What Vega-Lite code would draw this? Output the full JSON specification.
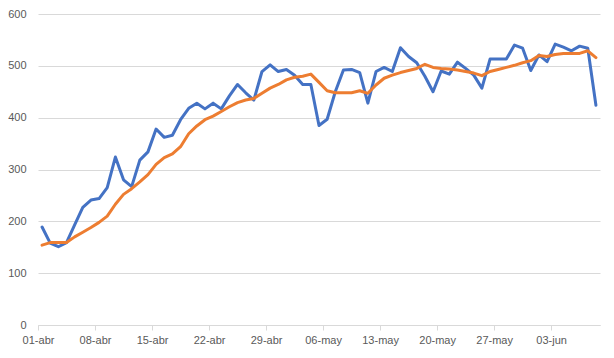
{
  "$schema": "https://vega.github.io/schema/vega-lite/v6.json",
  "width": 562,
  "height": 311,
  "autosize": {"type": "none"},
  "padding": {"left": 38, "top": 14, "right": 14, "bottom": 33},
  "background": "white",
  "config": {
    "view": {"stroke": null},
    "axis": {"labelFont": "Liberation Sans", "labelFontSize": 11, "labelColor": "#595959"}
  },
  "data": {
    "values": [
      {"fecha": "2020-04-01", "diario": 189, "media": 154},
      {"fecha": "2020-04-02", "diario": 158, "media": 159},
      {"fecha": "2020-04-03", "diario": 151, "media": 159},
      {"fecha": "2020-04-04", "diario": 159, "media": 159},
      {"fecha": "2020-04-05", "diario": 193, "media": 170},
      {"fecha": "2020-04-06", "diario": 227, "media": 179},
      {"fecha": "2020-04-07", "diario": 241, "media": 188},
      {"fecha": "2020-04-08", "diario": 244, "media": 198},
      {"fecha": "2020-04-09", "diario": 265, "media": 210},
      {"fecha": "2020-04-10", "diario": 324, "media": 233},
      {"fecha": "2020-04-11", "diario": 280, "media": 252},
      {"fecha": "2020-04-12", "diario": 267, "media": 263},
      {"fecha": "2020-04-13", "diario": 318, "media": 276},
      {"fecha": "2020-04-14", "diario": 334, "media": 290},
      {"fecha": "2020-04-15", "diario": 378, "media": 310},
      {"fecha": "2020-04-16", "diario": 362, "media": 323},
      {"fecha": "2020-04-17", "diario": 366, "media": 330},
      {"fecha": "2020-04-18", "diario": 396, "media": 344},
      {"fecha": "2020-04-19", "diario": 418, "media": 369},
      {"fecha": "2020-04-20", "diario": 428, "media": 384},
      {"fecha": "2020-04-21", "diario": 417, "media": 396},
      {"fecha": "2020-04-22", "diario": 428, "media": 403},
      {"fecha": "2020-04-23", "diario": 417, "media": 412},
      {"fecha": "2020-04-24", "diario": 442, "media": 421},
      {"fecha": "2020-04-25", "diario": 464, "media": 429},
      {"fecha": "2020-04-26", "diario": 448, "media": 434},
      {"fecha": "2020-04-27", "diario": 434, "media": 437},
      {"fecha": "2020-04-28", "diario": 489, "media": 447},
      {"fecha": "2020-04-29", "diario": 502, "media": 457},
      {"fecha": "2020-04-30", "diario": 489, "media": 464},
      {"fecha": "2020-05-01", "diario": 493, "media": 473},
      {"fecha": "2020-05-02", "diario": 482, "media": 478},
      {"fecha": "2020-05-03", "diario": 464, "media": 480},
      {"fecha": "2020-05-04", "diario": 464, "media": 484},
      {"fecha": "2020-05-05", "diario": 385, "media": 468},
      {"fecha": "2020-05-06", "diario": 397, "media": 452},
      {"fecha": "2020-05-07", "diario": 450, "media": 448},
      {"fecha": "2020-05-08", "diario": 492, "media": 448},
      {"fecha": "2020-05-09", "diario": 493, "media": 448},
      {"fecha": "2020-05-10", "diario": 487, "media": 452},
      {"fecha": "2020-05-11", "diario": 428, "media": 447},
      {"fecha": "2020-05-12", "diario": 489, "media": 463},
      {"fecha": "2020-05-13", "diario": 497, "media": 476},
      {"fecha": "2020-05-14", "diario": 489, "media": 482},
      {"fecha": "2020-05-15", "diario": 535, "media": 487},
      {"fecha": "2020-05-16", "diario": 518, "media": 491},
      {"fecha": "2020-05-17", "diario": 506, "media": 495},
      {"fecha": "2020-05-18", "diario": 480, "media": 503},
      {"fecha": "2020-05-19", "diario": 450, "media": 497},
      {"fecha": "2020-05-20", "diario": 490, "media": 495},
      {"fecha": "2020-05-21", "diario": 484, "media": 494},
      {"fecha": "2020-05-22", "diario": 507, "media": 492},
      {"fecha": "2020-05-23", "diario": 495, "media": 489},
      {"fecha": "2020-05-24", "diario": 482, "media": 486},
      {"fecha": "2020-05-25", "diario": 457, "media": 481},
      {"fecha": "2020-05-26", "diario": 513, "media": 489},
      {"fecha": "2020-05-27", "diario": 513, "media": 493},
      {"fecha": "2020-05-28", "diario": 513, "media": 497},
      {"fecha": "2020-05-29", "diario": 540, "media": 501},
      {"fecha": "2020-05-30", "diario": 534, "media": 506},
      {"fecha": "2020-05-31", "diario": 491, "media": 510},
      {"fecha": "2020-06-01", "diario": 521, "media": 520},
      {"fecha": "2020-06-02", "diario": 508, "media": 518},
      {"fecha": "2020-06-03", "diario": 542, "media": 522},
      {"fecha": "2020-06-04", "diario": 536, "media": 524},
      {"fecha": "2020-06-05", "diario": 529, "media": 524},
      {"fecha": "2020-06-06", "diario": 538, "media": 524},
      {"fecha": "2020-06-07", "diario": 534, "media": 529},
      {"fecha": "2020-06-08", "diario": 424, "media": 516}
    ]
  },
  "transform": [{"fold": ["diario", "media"], "as": ["serie", "valor"]}],
  "mark": {"type": "line", "strokeWidth": 3, "strokeJoin": "round", "strokeCap": "round"},
  "encoding": {
    "x": {
      "field": "fecha",
      "type": "temporal",
      "timeUnit": "utcyearmonthdate",
      "bandPosition": 0.5,
      "scale": {
        "type": "utc",
        "domain": [
          {"year": 2020, "month": 4, "date": 1, "utc": true},
          {"year": 2020, "month": 6, "date": 9, "utc": true}
        ]
      },
      "axis": {
        "title": null,
        "values": [
          {"year": 2020, "month": 4, "date": 1, "utc": true},
          {"year": 2020, "month": 4, "date": 8, "utc": true},
          {"year": 2020, "month": 4, "date": 15, "utc": true},
          {"year": 2020, "month": 4, "date": 22, "utc": true},
          {"year": 2020, "month": 4, "date": 29, "utc": true},
          {"year": 2020, "month": 5, "date": 6, "utc": true},
          {"year": 2020, "month": 5, "date": 13, "utc": true},
          {"year": 2020, "month": 5, "date": 20, "utc": true},
          {"year": 2020, "month": 5, "date": 27, "utc": true},
          {"year": 2020, "month": 6, "date": 3, "utc": true}
        ],
        "labelExpr": "utcFormat(datum.value, '%d') + '-' + ['ene','feb','mar','abr','may','jun','jul'][utcmonth(datum.value)]",
        "grid": false,
        "domainColor": "#d9d9d9",
        "tickColor": "#d9d9d9",
        "tickSize": 5,
        "labelPadding": 4,
        "labelFlush": false,
        "labelOverlap": false
      }
    },
    "y": {
      "field": "valor",
      "type": "quantitative",
      "scale": {"domain": [0, 600]},
      "axis": {
        "title": null,
        "values": [0, 100, 200, 300, 400, 500, 600],
        "domain": false,
        "ticks": false,
        "tickSize": 0,
        "gridColor": "#d9d9d9",
        "labelPadding": 12
      }
    },
    "color": {
      "field": "serie",
      "type": "nominal",
      "scale": {"domain": ["diario", "media"], "range": ["#4472C4", "#ED7D31"]},
      "legend": null
    }
  }
}
